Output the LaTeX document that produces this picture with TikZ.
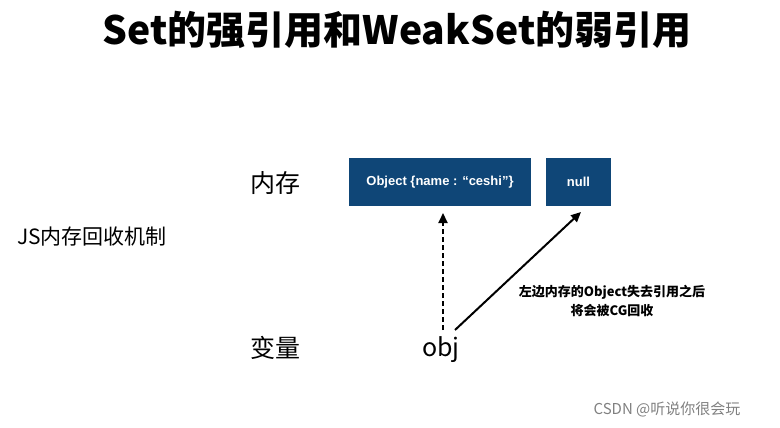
\documentclass[tikz,border=0pt]{standalone}
\usepackage{fontspec}
\setmainfont{Noto Sans CJK SC}
\newfontfamily\latinsans{Liberation Sans}
\usetikzlibrary{arrows.meta}
\definecolor{boxblue}{HTML}{0F4677}
\begin{document}
\begin{tikzpicture}[x=1pt,y=-1pt,
  membox/.style={fill=boxblue,draw=none,text=white,font=\latinsans\fontsize{13}{15}\selectfont\bfseries,inner sep=0pt},
  lbl/.style={font=\fontsize{25}{28}\selectfont},
  arr/.style={-{Triangle[length=10pt,width=9pt]},line width=2pt}]
\useasboundingbox (0,0) rectangle (780,428);
\node[font=\fontsize{39}{44}\selectfont\bfseries] (title) at (397,30) {Set的强引用和WeakSet的弱引用};
\node[membox,minimum width=182pt,minimum height=48pt] (obj1) at (440,182) {Object \{name : “ceshi”\}};
\node[membox,minimum width=65pt,minimum height=48pt] (null) at (578.5,182) {null};
\node[lbl] (mem) at (275,183) {内存};
\node[lbl] (var) at (275,348) {变量};
\node[font=\fontsize{21}{24}\selectfont] (js) at (92,237) {JS内存回收机制};
\node[lbl] (o) at (441,350) {obj};
\coordinate (ds) at (443,330);
\coordinate (de) at (443,213);
\coordinate (ss) at (455,330);
\coordinate (se) at (581,212);
\draw[arr,dashed,dash pattern=on 5pt off 3pt] (ds) -- (de);
\draw[arr] (ss) -- (se);
\node[font=\fontsize{13}{19}\selectfont\bfseries,align=center] (note) at (612,301) {左边内存的Object失去引用之后\\将会被CG回收};
\node[text=gray,font=\fontsize{15}{17}\selectfont] (wm) at (667,409) {CSDN @听说你很会玩};
\end{tikzpicture}
\end{document}
